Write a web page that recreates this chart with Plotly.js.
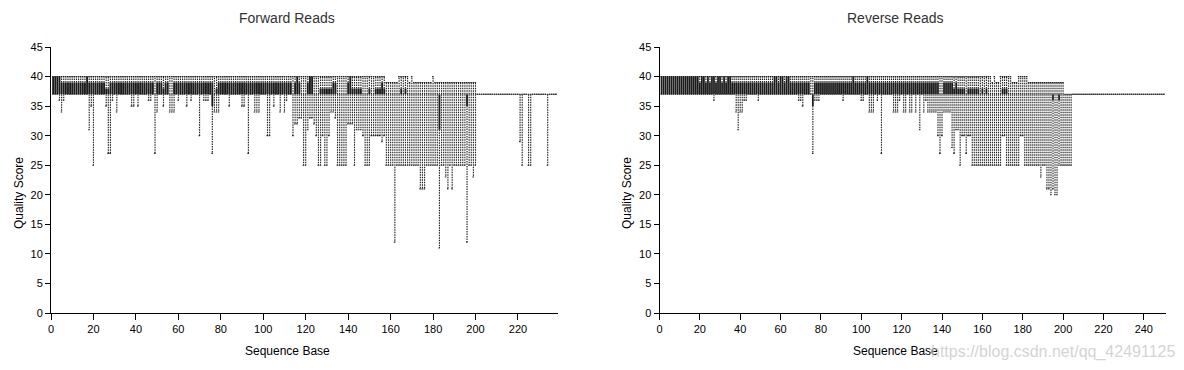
<!DOCTYPE html>
<html>
<head>
<meta charset="utf-8">
<script src="https://cdn.plot.ly/plotly-3.0.1.min.js"></script>
<style>html,body{margin:0;padding:0;background:#fff;}#chart{width:1184px;height:370px;}</style>
</head>
<body>
<div id="chart"></div>
<script>
// ---------- Forward reads (per-base quality summary, positions 1..238) ----------
const fwdLow = [
37,37,37,36,34,36,37,37,37,37,
37,37,37,37,37,37,37,31,35,25,
37,37,37,37,37,35,27,27,36,37,
34,37,37,37,37,37,37,35,35,37,
35,37,37,37,37,36,36,37,27,34,
37,37,35,37,37,34,34,34,37,36,
37,37,37,35,37,36,37,37,37,30,
37,36,36,36,37,27,34,34,34,37,
37,37,37,35,37,37,37,37,37,35,
35,37,27,37,37,34,34,34,37,37,
37,30,30,37,35,37,37,34,37,34,
36,37,37,30,32,32,33,33,25,25,
31,33,33,32,30,25,25,30,25,25,
30,34,34,33,25,25,25,25,25,32,
32,32,25,31,31,31,30,25,25,25,
30,30,30,30,30,29,30,25,25,25,
25,12,25,25,25,25,25,25,25,25,
25,25,25,21,21,21,25,25,25,25,
25,25,11,25,25,23,21,25,21,25,
25,25,25,25,25,12,25,25,23,25,
37,37,37,37,37,37,37,37,37,37,
37,37,37,37,37,37,37,37,37,37,
29,25,37,37,25,25,37,37,37,37,
37,37,37,25,37,37,37,37];
const fwdQ1 = [
37,37,37,37,37,37,37,37,37,37,
37,37,37,37,37,37,37,37,37,37,
37,37,37,37,37,37,37,37,37,37,
37,37,37,37,37,37,37,37,37,37,
37,37,37,37,37,37,37,37,37,37,
37,37,37,37,37,37,37,37,37,37,
37,37,37,37,37,37,37,37,37,37,
37,37,37,37,37,35,37,37,37,37,
37,37,37,37,37,37,37,37,37,37,
37,37,37,37,37,37,37,37,37,37,
37,37,37,37,37,37,37,37,37,37,
37,37,37,37,37,37,37,37,37,37,
37,37,37,37,37,37,37,37,37,37,
37,37,37,37,37,37,37,37,37,37,
37,37,37,37,37,37,37,37,37,37,
37,37,37,37,37,37,37,37,37,37,
37,37,37,37,37,37,37,37,37,37,
37,37,37,37,37,37,37,37,37,37,
37,37,31,37,37,37,37,37,37,37,
37,37,37,37,37,35,37,37,37,37,
37,37,37,37,37,37,37,37,37,37,
37,37,37,37,37,37,37,37,37,37,
37,37,37,37,37,37,37,37,37,37,
37,37,37,37,37,37,37,37];
const fwdMed = [
38,38,38,38,38,38,38,38,38,38,
38,38,38,38,38,38,38,38,38,38,
38,38,38,38,38,37,37,38,38,38,
38,38,38,38,38,38,38,38,38,38,
38,38,38,38,38,38,38,38,37,38,
38,38,37,38,38,37,37,38,38,38,
38,38,38,38,38,38,38,38,38,38,
38,38,38,38,38,37,37,37,38,38,
38,38,38,38,38,38,38,38,38,38,
38,38,38,38,38,38,38,38,38,38,
38,38,38,38,38,38,38,38,38,38,
38,38,38,37,38,38,38,37,37,37,
38,38,38,37,37,37,37,37,37,37,
37,37,38,38,37,37,37,37,37,38,
38,37,37,37,37,37,37,37,37,37,
37,37,37,37,37,38,37,37,37,37,
37,37,37,37,37,37,37,37,37,37,
37,37,37,37,37,37,37,37,37,37,
37,37,35,37,37,37,37,37,37,37,
37,37,37,37,37,36,37,37,37,37,
37,37,37,37,37,37,37,37,37,37,
37,37,37,37,37,37,37,37,37,37,
37,37,37,37,37,37,37,37,37,37,
37,37,37,37,37,37,37,37];
const fwdQ3 = [
40,40,40,40,39,39,39,39,39,39,
39,39,39,39,39,39,40,39,39,39,
39,39,39,39,39,38,38,39,39,39,
39,39,39,39,39,39,39,39,39,39,
39,39,39,39,39,39,39,39,37,39,
39,39,38,39,39,37,37,39,39,39,
39,39,39,39,39,39,39,39,39,39,
39,39,39,39,39,39,37,38,39,39,
39,39,39,39,39,39,39,39,39,39,
39,39,39,39,39,39,39,39,39,39,
39,39,39,39,39,39,39,39,39,39,
39,39,39,37,39,40,39,37,37,37,
39,40,40,37,37,37,38,38,38,38,
38,38,39,39,37,37,37,37,37,39,
40,38,38,38,38,38,37,37,37,38,
37,37,38,38,38,39,38,37,37,37,
37,37,37,37,38,37,38,37,37,37,
37,37,37,37,37,37,37,37,37,37,
37,37,37,37,37,37,37,37,37,37,
37,37,37,37,37,37,37,37,37,37,
37,37,37,37,37,37,37,37,37,37,
37,37,37,37,37,37,37,37,37,37,
37,37,37,37,37,37,37,37,37,37,
37,37,37,37,37,37,37,37];
const fwdHigh = [
40,40,40,40,40,40,40,40,40,40,
40,40,40,40,40,40,40,40,40,40,
40,40,40,40,40,40,40,40,40,40,
40,40,40,40,40,40,40,40,40,40,
40,40,40,40,40,40,40,40,40,40,
40,40,40,40,40,40,40,40,40,40,
40,40,40,40,40,40,40,40,40,40,
40,40,40,40,40,40,40,40,40,40,
40,40,40,40,40,40,40,40,40,40,
40,40,40,40,40,40,40,40,40,40,
40,40,40,40,40,40,40,40,40,40,
40,40,40,40,40,40,40,40,40,40,
40,40,40,40,40,40,40,40,40,40,
40,40,40,40,40,40,40,40,40,40,
40,40,40,40,40,40,40,40,40,40,
40,40,40,40,40,40,40,39,39,39,
39,39,39,40,40,40,40,40,39,40,
39,39,39,39,39,39,39,39,39,40,
39,39,39,39,39,39,39,39,39,39,
39,39,39,39,39,39,39,39,39,39,
37,37,37,37,37,37,37,37,37,37,
37,37,37,37,37,37,37,37,37,37,
37,37,37,37,37,37,37,37,37,37,
37,37,37,37,37,37,37,37];

// ---------- Reverse reads (positions 1..250) ----------
const revLow = [
37,37,37,37,37,37,37,37,37,37,
37,37,37,37,37,37,37,37,37,37,
37,37,37,37,37,37,36,37,37,37,
37,37,37,37,37,37,37,34,31,34,
34,36,36,37,37,37,37,37,36,37,
37,37,37,37,37,37,37,37,37,37,
37,37,37,37,37,37,37,37,36,36,
35,37,37,37,37,27,36,36,36,37,
37,37,37,37,37,37,37,37,37,37,
36,37,37,37,37,37,37,37,37,36,
36,37,37,34,34,34,37,36,37,27,
37,37,37,37,37,34,34,34,36,37,
34,34,37,34,34,37,34,37,31,37,
34,36,34,34,34,34,34,30,27,30,
34,34,34,34,28,27,31,31,25,30,
30,27,30,30,25,25,25,25,25,25,
25,25,25,25,25,25,25,25,25,30,
30,25,25,25,25,25,25,25,30,30,
25,25,25,25,25,25,25,25,23,25,
25,21,21,20,21,20,20,25,25,25,
25,25,25,25,37,37,37,37,37,37,
37,37,37,37,37,37,37,37,37,37,
37,37,37,37,37,37,37,37,37,37,
37,37,37,37,37,37,37,37,37,37,
37,37,37,37,37,37,37,37,37,37];
const revQ1 = [
37,37,37,37,37,37,37,37,37,37,
37,37,37,37,37,37,37,37,37,37,
37,37,37,37,37,37,37,37,37,37,
37,37,37,37,37,37,37,37,37,37,
37,37,37,37,37,37,37,37,37,37,
37,37,37,37,37,37,37,37,37,37,
37,37,37,37,37,37,37,37,37,37,
37,37,37,37,37,35,37,37,37,37,
37,37,37,37,37,37,37,37,37,37,
37,37,37,37,37,37,37,37,37,37,
37,37,37,37,37,37,37,37,37,37,
37,37,37,37,37,37,37,37,37,37,
37,37,37,37,37,37,37,37,37,37,
37,37,37,37,37,37,37,37,37,37,
37,37,37,37,37,37,37,37,37,37,
37,37,37,37,37,37,37,37,37,37,
37,37,37,37,37,37,37,37,37,37,
37,37,37,37,37,37,37,37,37,37,
37,37,37,37,37,37,37,37,37,37,
37,37,37,37,36,37,37,36,37,37,
37,37,37,37,37,37,37,37,37,37,
37,37,37,37,37,37,37,37,37,37,
37,37,37,37,37,37,37,37,37,37,
37,37,37,37,37,37,37,37,37,37,
37,37,37,37,37,37,37,37,37,37];
const revMed = [
38,38,38,38,38,38,38,38,38,38,
38,38,38,38,38,38,38,38,38,38,
38,38,38,38,38,38,38,38,38,38,
38,38,38,38,38,38,38,38,38,38,
38,38,38,38,38,38,38,38,38,38,
38,38,38,38,38,38,38,38,38,38,
38,38,38,38,38,38,38,38,38,38,
38,38,38,38,37,36,38,38,38,38,
38,38,38,38,38,38,38,38,38,38,
38,38,38,38,38,38,38,38,38,38,
38,38,38,38,38,38,38,38,38,38,
38,38,38,38,38,38,38,38,38,38,
38,38,38,38,38,38,38,38,38,38,
38,38,38,38,38,38,38,38,37,37,
38,38,38,38,38,37,38,37,37,37,
37,37,37,37,37,37,37,37,37,37,
37,37,37,37,37,37,37,37,37,37,
37,37,37,37,37,37,37,37,37,37,
37,37,37,37,37,37,37,37,37,37,
37,37,37,37,36,37,37,36,37,37,
37,37,37,37,37,37,37,37,37,37,
37,37,37,37,37,37,37,37,37,37,
37,37,37,37,37,37,37,37,37,37,
37,37,37,37,37,37,37,37,37,37,
37,37,37,37,37,37,37,37,37,37];
const revQ3 = [
40,40,40,40,40,40,40,40,40,40,
40,40,40,40,40,40,40,40,40,39,
40,40,39,40,39,40,40,39,40,40,
39,40,39,40,40,39,39,39,39,39,
39,39,39,39,39,39,39,39,39,39,
39,39,39,39,39,39,40,40,39,40,
40,39,40,40,39,39,39,39,39,39,
39,39,39,39,37,37,39,39,39,39,
39,39,39,39,39,39,39,39,39,39,
39,39,39,39,39,40,39,39,39,39,
39,39,40,39,39,39,39,39,39,39,
39,39,39,39,39,39,39,39,39,39,
39,39,39,39,39,39,39,39,39,39,
39,39,39,39,39,39,39,39,37,37,
39,39,39,39,39,38,39,38,38,38,
38,37,38,38,38,38,38,38,37,38,
37,38,37,37,37,37,37,37,37,38,
38,38,37,37,37,37,37,37,37,37,
37,37,37,37,37,37,37,37,37,37,
37,37,37,37,37,37,37,37,37,37,
37,37,37,37,37,37,37,37,37,37,
37,37,37,37,37,37,37,37,37,37,
37,37,37,37,37,37,37,37,37,37,
37,37,37,37,37,37,37,37,37,37,
37,37,37,37,37,37,37,37,37,37];
const revHigh = [
40,40,40,40,40,40,40,40,40,40,
40,40,40,40,40,40,40,40,40,40,
40,40,40,40,40,40,40,40,40,40,
40,40,40,40,40,40,40,40,40,40,
40,40,40,40,40,40,40,40,40,40,
40,40,40,40,40,40,40,40,40,40,
40,40,40,40,40,40,40,40,40,40,
40,40,40,40,40,40,40,40,40,40,
40,40,40,40,40,40,40,40,40,40,
40,40,40,40,40,40,40,40,40,40,
40,40,40,40,40,40,40,40,40,40,
40,40,40,40,40,40,40,40,40,40,
40,40,40,40,40,40,40,40,40,40,
40,40,40,40,40,40,40,40,40,40,
40,40,40,40,40,40,40,40,40,40,
40,40,40,40,40,40,40,40,40,40,
40,40,40,40,39,40,39,39,40,40,
40,40,40,40,39,39,39,40,40,40,
40,40,39,39,39,39,39,39,39,39,
39,39,39,39,39,39,39,39,39,39,
37,37,37,37,37,37,37,37,37,37,
37,37,37,37,37,37,37,37,37,37,
37,37,37,37,37,37,37,37,37,37,
37,37,37,37,37,37,37,37,37,37,
37,37,37,37,37,37,37,37,37,37];

const panelTitles = ['Forward Reads', 'Reverse Reads'];
const xTitle = 'Sequence Base';
const yTitle = 'Quality Score';
const watermark = 'https://blog.csdn.net/qq_42491125';

// ---------- build ----------
function positions(n) { return Array.from({length: n}, (_, i) => i + 1); }

// dashed whiskers with caps (caps always drawn at the whisker ends)
function whiskerTrace(pos, lo, q1, q3, hi, xa, ya) {
  const x = [], y = [];
  const cap = 0.46;
  for (let i = 0; i < pos.length; i++) {
    const p = pos[i];
    if (lo[i] < q1[i]) { x.push(p, p, null); y.push(q1[i], lo[i], null); }
    x.push(p - cap, p + cap, null); y.push(lo[i], lo[i], null);
    if (hi[i] > q3[i]) { x.push(p, p, null); y.push(q3[i], hi[i], null); }
    x.push(p - cap, p + cap, null); y.push(hi[i], hi[i], null);
  }
  return {type: 'scatter', mode: 'lines', x, y, xaxis: xa, yaxis: ya,
    line: {color: '#222', width: 1.15, dash: '1.5px,1px'}, hoverinfo: 'skip', connectgaps: false};
}

function boxTrace(pos, q1, med, q3, xa, ya) {
  return {type: 'box', x: pos, q1: q1, median: med, q3: q3,
    lowerfence: q1, upperfence: q3, boxpoints: false, width: 0.88, whiskerwidth: 0,
    fillcolor: '#1c1c1c', line: {color: 'rgba(30,30,30,0)', width: 0},
    xaxis: xa, yaxis: ya, hoverinfo: 'skip'};
}

const fPos = positions(fwdLow.length);
const rPos = positions(revLow.length);

const data = [
  whiskerTrace(fPos, fwdLow, fwdQ1, fwdQ3, fwdHigh, 'x', 'y'),
  boxTrace(fPos, fwdQ1, fwdMed, fwdQ3, 'x', 'y'),
  whiskerTrace(rPos, revLow, revQ1, revQ3, revHigh, 'x2', 'y2'),
  boxTrace(rPos, revQ1, revMed, revQ3, 'x2', 'y2')
];

const L = 51, R = 18, T = 47, B = 57, W = 1184, H = 370;
const pw = W - L - R, ph = H - T - B;
const px = v => (v - L) / pw;          // pixel x -> paper
const py = v => (H - B - v) / ph;      // pixel y -> paper

const axisBase = {showline: true, linecolor: '#000', linewidth: 1, ticks: 'outside',
  ticklen: 6, tickwidth: 1, tickcolor: '#000', showgrid: false, zeroline: false,
  tickfont: {size: 11, color: '#000'}, fixedrange: true};

const layout = {
  width: W, height: H,
  margin: {l: L, r: R, t: T, b: B},
  paper_bgcolor: '#fff', plot_bgcolor: '#fff',
  showlegend: false,
  font: {family: 'Liberation Sans, Arial, sans-serif', size: 11, color: '#000'},
  xaxis: Object.assign({}, axisBase, {domain: [0, 507.3 / pw], range: [0, 239], tick0: 0, dtick: 20, anchor: 'y'}),
  yaxis: Object.assign({}, axisBase, {domain: [0, 1], range: [0, 45], tick0: 0, dtick: 5, anchor: 'x', ticklen: 5}),
  xaxis2: Object.assign({}, axisBase, {domain: [(659.5 - L) / pw, 1], range: [0, 251], tick0: 0, dtick: 20, anchor: 'y2'}),
  yaxis2: Object.assign({}, axisBase, {domain: [0, 1], range: [0, 45], tick0: 0, dtick: 5, anchor: 'x2', ticklen: 5}),
  annotations: [
    {text: panelTitles[0], x: px(287), y: py(18), xref: 'paper', yref: 'paper', showarrow: false, xanchor: 'center', yanchor: 'middle', font: {size: 14, color: '#333'}},
    {text: panelTitles[1], x: px(895), y: py(18), xref: 'paper', yref: 'paper', showarrow: false, xanchor: 'center', yanchor: 'middle', font: {size: 14, color: '#333'}},
    {text: xTitle, x: px(287), y: py(351), xref: 'paper', yref: 'paper', showarrow: false, xanchor: 'center', yanchor: 'middle', font: {size: 12, color: '#000'}},
    {text: xTitle, x: px(895), y: py(351), xref: 'paper', yref: 'paper', showarrow: false, xanchor: 'center', yanchor: 'middle', font: {size: 12, color: '#000'}},
    {text: yTitle, x: px(19), y: py(193), xref: 'paper', yref: 'paper', showarrow: false, textangle: -90, xanchor: 'center', yanchor: 'middle', font: {size: 12, color: '#000'}},
    {text: yTitle, x: px(627), y: py(193), xref: 'paper', yref: 'paper', showarrow: false, textangle: -90, xanchor: 'center', yanchor: 'middle', font: {size: 12, color: '#000'}},
    {text: watermark, x: px(1177), y: py(352), xref: 'paper', yref: 'paper', showarrow: false, xanchor: 'right', yanchor: 'middle', font: {size: 16, color: 'rgba(200,200,200,0.8)'}}
  ]
};

Plotly.newPlot('chart', data, layout, {displayModeBar: false, staticPlot: true});
</script>
</body>
</html>
